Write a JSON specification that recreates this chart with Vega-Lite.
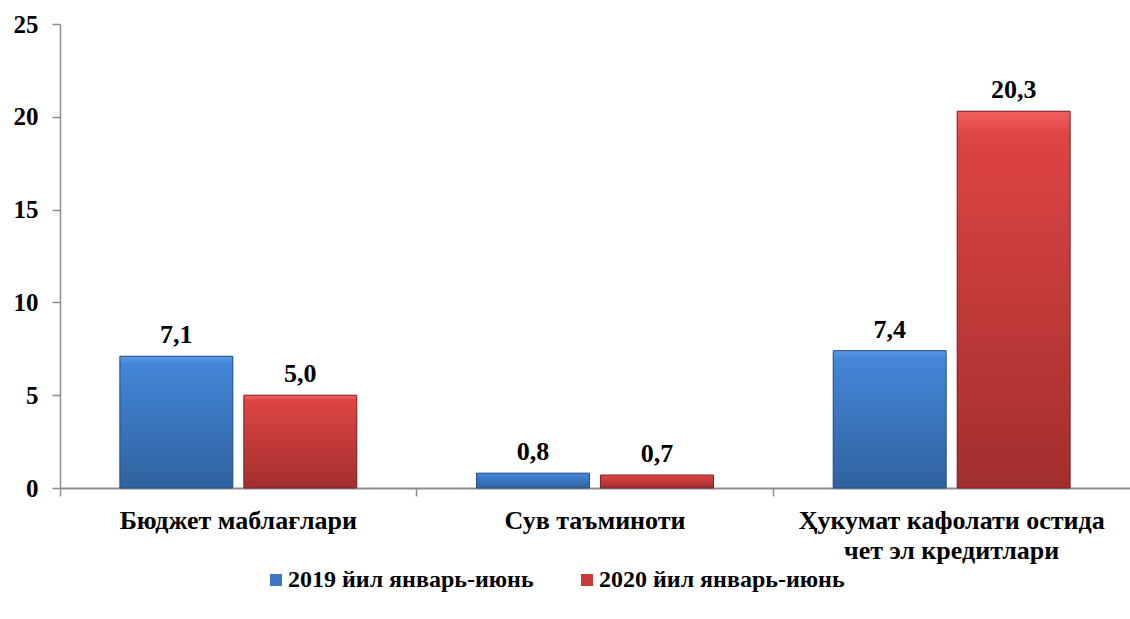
{
  "$schema": "https://vega.github.io/schema/vega-lite/v6.json",
  "autosize": {"type": "none"},
  "padding": {"left": 60, "top": 24, "right": 0, "bottom": 131},
  "width": 1070,
  "height": 464,
  "background": "white",
  "data": {
    "values": [
      {"category": "Бюджет маблағлари", "series": "2019 йил январь-июнь", "value": 7.1},
      {"category": "Бюджет маблағлари", "series": "2020 йил январь-июнь", "value": 5.0},
      {"category": "Сув таъминоти", "series": "2019 йил январь-июнь", "value": 0.8},
      {"category": "Сув таъминоти", "series": "2020 йил январь-июнь", "value": 0.7},
      {"category": "Ҳукумат кафолати остида чет эл кредитлари", "series": "2019 йил январь-июнь", "value": 7.4},
      {"category": "Ҳукумат кафолати остида чет эл кредитлари", "series": "2020 йил январь-июнь", "value": 20.3}
    ]
  },
  "encoding": {
    "x": {
      "field": "category", "type": "nominal", "sort": null,
      "scale": {"paddingInner": 0, "paddingOuter": 0},
      "axis": {
        "title": null, "labelAngle": 0, "bandPosition": 0,
        "domainColor": "#8c8c8c", "domainWidth": 2, "tickColor": "#8c8c8c", "tickWidth": 1.5, "tickSize": 8,
        "labelFont": "Liberation Serif", "labelFontWeight": "bold", "labelFontSize": 26, "labelColor": "#000000",
        "labelPadding": 11, "labelLineHeight": 30, "labelLimit": 500,
        "labelExpr": "datum.label == 'Ҳукумат кафолати остида чет эл кредитлари' ? ['Ҳукумат кафолати остида', 'чет эл кредитлари'] : datum.label"
      }
    },
    "xOffset": {
      "field": "series", "type": "nominal",
      "scale": {"paddingInner": 0.089, "paddingOuter": 0.483}
    },
    "y": {
      "field": "value", "type": "quantitative",
      "scale": {"domain": [0, 25], "nice": false},
      "axis": {
        "title": null, "values": [0, 5, 10, 15, 20, 25], "grid": false,
        "domainColor": "#8c8c8c", "domainWidth": 1.5, "tickColor": "#8c8c8c", "tickWidth": 1.5, "tickSize": 8,
        "labelFont": "Liberation Serif", "labelFontWeight": "bold", "labelFontSize": 25, "labelColor": "#000000",
        "labelPadding": 14
      }
    }
  },
  "layer": [
    {
      "mark": {"type": "bar"},
      "encoding": {
        "color": {
          "field": "series", "type": "nominal",
          "scale": {"domain": ["2019 йил январь-июнь", "2020 йил январь-июнь"], "range": ["#3c78c8", "#c83a3a"]},
          "legend": {
            "title": null, "orient": "none", "legendX": 204, "legendY": 544, "direction": "horizontal",
            "symbolType": "square", "symbolSize": 144, "symbolStrokeWidth": 0,
            "labelFont": "Liberation Serif", "labelFontWeight": "bold", "labelFontSize": 24, "labelColor": "#000000",
            "columnPadding": 41, "labelOffset": 0, "labelLimit": 400
          }
        }
      }
    },
    {
      "mark": {"type": "bar", "strokeWidth": 1},
      "encoding": {
        "fill": {
          "condition": {
            "test": "datum.series === '2019 йил январь-июнь'",
            "value": {"gradient": "linear", "x1": 0, "y1": 0, "x2": 0, "y2": 1,
              "stops": [{"offset": 0, "color": "#5a9ae6"}, {"offset": 0.06, "color": "#4486d8"}, {"offset": 1, "color": "#30629f"}]}
          },
          "value": {"gradient": "linear", "x1": 0, "y1": 0, "x2": 0, "y2": 1,
            "stops": [{"offset": 0, "color": "#f06060"}, {"offset": 0.06, "color": "#de4444"}, {"offset": 1, "color": "#a22e2e"}]}
        },
        "stroke": {
          "condition": {"test": "datum.series === '2019 йил январь-июнь'", "value": "#254f85"},
          "value": "#7e2222"
        }
      }
    },
    {
      "mark": {"type": "text", "baseline": "alphabetic", "dy": -13, "font": "Liberation Serif", "fontWeight": "bold", "fontSize": 26, "color": "#000000"},
      "encoding": {
        "text": {"field": "value", "type": "quantitative", "format": ".1f"}
      }
    }
  ],
  "config": {
    "view": {"stroke": null},
    "locale": {"number": {"decimal": ",", "thousands": " ", "grouping": [3], "currency": ["", ""]}}
  }
}
